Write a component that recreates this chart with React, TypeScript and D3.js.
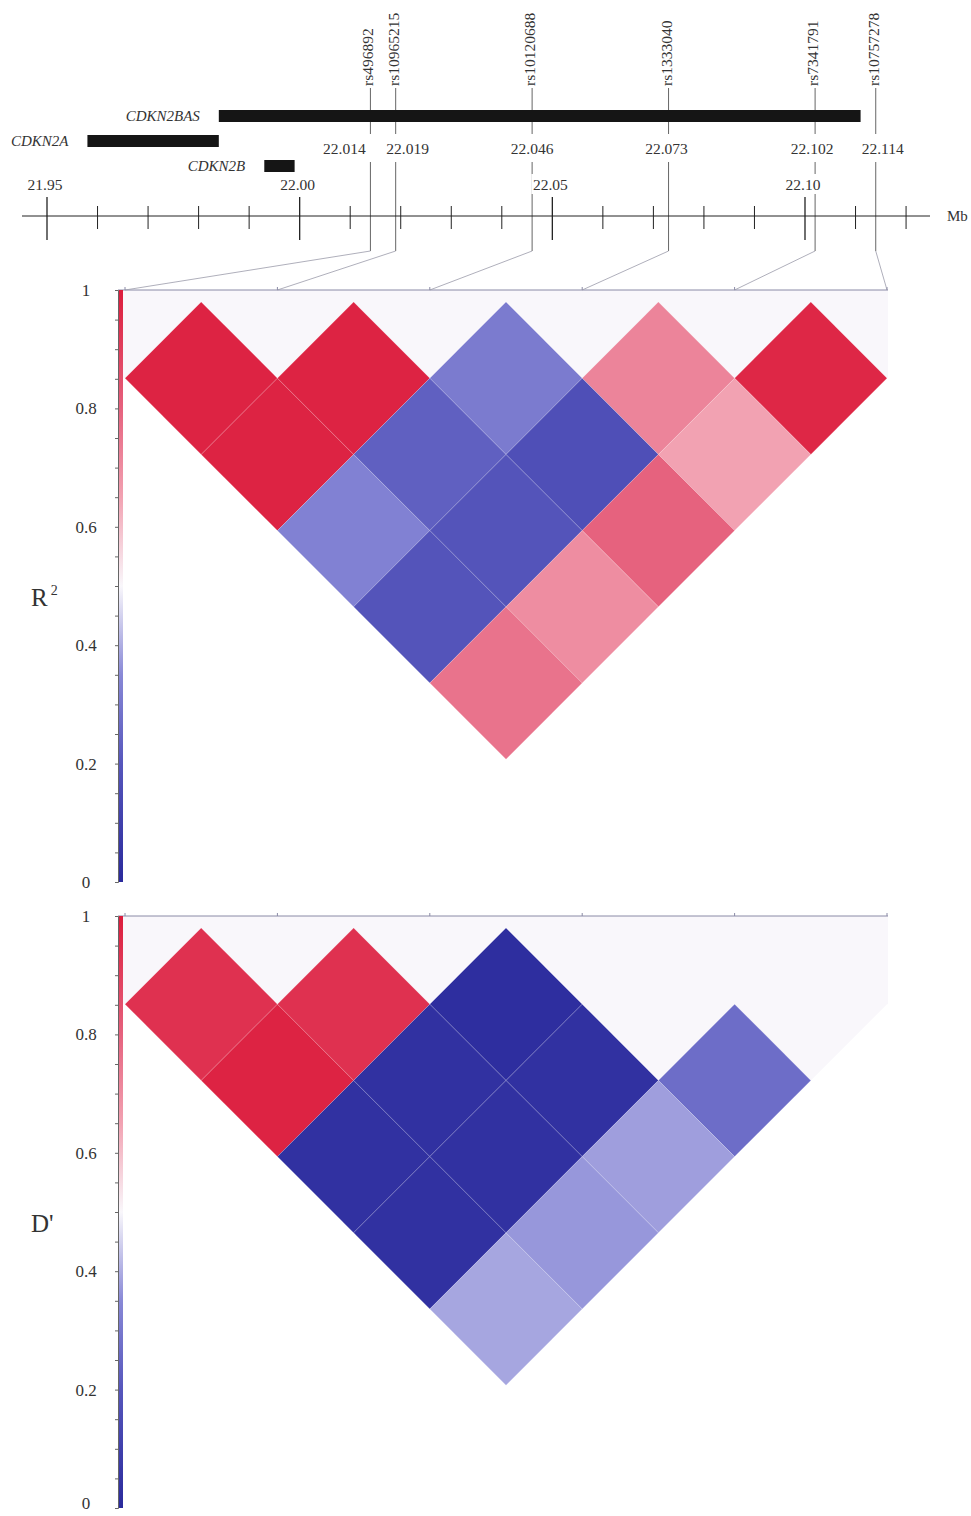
import * as d3 from "d3";
import React, { useEffect, useRef } from "react";

// SNPs and their positions (Mb)
const snps = ["rs496892", "rs10965215", "rs10120688", "rs1333040", "rs7341791", "rs10757278"];
const snpPos = [22.014, 22.019, 22.046, 22.073, 22.102, 22.114];

// genes
const genes = ["CDKN2BAS", "CDKN2A", "CDKN2B"];
const geneStart = [21.984, 21.958, 21.993];
const geneEnd = [22.111, 21.984, 21.999];

// axis ticks (Mb)
const majorTicks = [21.95, 22.0, 22.05, 22.1];
const minorTicks = [21.96, 21.97, 21.98, 21.99, 22.01, 22.02, 22.03, 22.04, 22.06, 22.07, 22.08, 22.09, 22.11, 22.12];

// LD values, grouped by distance between SNPs (row 1 = neighbours)
const r2Rows = [
  [0.98, 0.98, 0.31, 0.72, 0.97],
  [0.98, 0.23, 0.17, 0.65],
  [0.33, 0.19, 0.8],
  [0.19, 0.7],
  [0.76],
];
const dRows = [
  [0.94, 0.94, 0.02, 0.5, 0.5],
  [0.98, 0.03, 0.03, 0.27],
  [0.03, 0.03, 0.38],
  [0.03, 0.37],
  [0.39],
];

const legendTicks = [0, 0.2, 0.4, 0.6, 0.8, 1];

// colour ramp of the legend
const colorStops = [0, 0.2, 0.35, 0.5, 0.65, 0.8, 1];
const colorRange = ["#2a2a9c", "#5656bc", "#8888d6", "#f9f7fb", "#f2a2b2", "#e6627e", "#dc1c3c"];

const App = () => {
  const svgRef = useRef(null);

  useEffect(() => {
    const svg = d3.select(svgRef.current);
    svg.selectAll("*").remove();
    const font = "'Liberation Serif', 'Times New Roman', serif";
    const textColor = "#333";

    const color = d3.scaleLinear<string>().domain(colorStops).range(colorRange);

    // gradient for legend bar
    const defs = svg.append("defs");
    const grad = defs
      .append("linearGradient")
      .attr("id", "ldgrad")
      .attr("x1", 0)
      .attr("y1", 1)
      .attr("x2", 0)
      .attr("y2", 0);
    grad
      .selectAll("stop")
      .data(colorStops)
      .enter()
      .append("stop")
      .attr("offset", (d) => d)
      .attr("stop-color", (d, i) => colorRange[i]);

    // ---------- genomic axis ----------
    const x = d3.scaleLinear().domain([21.95, 22.1]).range([47, 805]);
    const axisY = 216;
    const top = svg.append("g");

    // SNP lines (broken at the position label row)
    snpPos.forEach((p) => {
      const sx = x(p);
      [[88, 134], [162, 251]].forEach(([a, b]) => {
        top.append("line")
          .attr("x1", sx).attr("x2", sx).attr("y1", a).attr("y2", b)
          .attr("stroke", "#666").attr("stroke-width", 1);
      });
    });

    // gene bars
    const geneRowY = [110, 135, 160];
    genes.forEach((g, i) => {
      top.append("rect")
        .attr("x", x(geneStart[i]))
        .attr("y", geneRowY[i])
        .attr("width", x(geneEnd[i]) - x(geneStart[i]))
        .attr("height", 12)
        .attr("fill", "#151515");
      top.append("text")
        .attr("x", x(geneStart[i]) - 19)
        .attr("y", geneRowY[i] + 11)
        .attr("text-anchor", "end")
        .attr("font-family", font)
        .attr("font-style", "italic")
        .attr("font-size", 15)
        .attr("fill", textColor)
        .text(g);
    });

    // axis line and ticks
    top.append("line")
      .attr("x1", 22).attr("x2", 930).attr("y1", axisY).attr("y2", axisY)
      .attr("stroke", "#222").attr("stroke-width", 1);
    majorTicks.forEach((t) => {
      top.append("line")
        .attr("x1", x(t)).attr("x2", x(t)).attr("y1", 197).attr("y2", 240)
        .attr("stroke", "#222").attr("stroke-width", 1.3);
    });
    minorTicks.forEach((t) => {
      top.append("line")
        .attr("x1", x(t)).attr("x2", x(t)).attr("y1", 206).attr("y2", 229)
        .attr("stroke", "#222").attr("stroke-width", 1);
    });
    const fmt2 = d3.format(".2f");
    majorTicks.forEach((t) => {
      top.append("rect")
        .attr("x", x(t) - 21).attr("y", 174).attr("width", 40).attr("height", 20)
        .attr("fill", "#fff");
      top.append("text")
        .attr("x", x(t) - 2)
        .attr("y", 190)
        .attr("text-anchor", "middle")
        .attr("font-family", font)
        .attr("font-size", 15.5)
        .attr("fill", textColor)
        .text(fmt2(t));
    });
    top.append("text")
      .attr("x", 947).attr("y", 221)
      .attr("font-family", font).attr("font-size", 15).attr("fill", textColor)
      .text("Mb");

    // SNP names and positions
    const fmt3 = d3.format(".3f");
    const posNudge = [-26, 12, 0, -2, -3, 7];
    snps.forEach((s, i) => {
      const sx = x(snpPos[i]);
      top.append("text")
        .attr("transform", `translate(${sx + 3},86) rotate(-90)`)
        .attr("text-anchor", "start")
        .attr("font-family", font)
        .attr("font-size", 15.5)
        .attr("fill", textColor)
        .text(s);
      top.append("text")
        .attr("x", sx + posNudge[i])
        .attr("y", 154)
        .attr("text-anchor", "middle")
        .attr("font-family", font)
        .attr("font-size", 15.5)
        .attr("fill", textColor)
        .text(fmt3(snpPos[i]));
    });

    // ---------- LD panels ----------
    const px = d3.scalePoint<string>().domain(snps).range([125, 887]);
    const half = px.step() / 2;

    const panels = [
      { rows: r2Rows, base: 290, bottom: 882, label: "R", sup: "2", connect: true },
      { rows: dRows, base: 916, bottom: 1508, label: "D'", sup: "", connect: false },
    ];

    panels.forEach((p) => {
      const g = svg.append("g");
      const y = d3.scaleLinear().domain([0, 1]).range([p.bottom, p.base]);
      const y0 = p.base + 12;

      // faint band above the first row
      g.append("rect")
        .attr("x", 122).attr("y", p.base)
        .attr("width", 888 - 122).attr("height", half + 12)
        .attr("fill", color(0.5));

      // cells
      const cells = [];
      p.rows.forEach((row, k) => {
        const dist = k + 1;
        row.forEach((v, i) => cells.push({ i, j: i + dist, v }));
      });
      g.selectAll(".cell")
        .data(cells)
        .enter()
        .append("path")
        .attr("class", "cell")
        .attr("d", (d) => {
          const cx = (px(snps[d.i]) + px(snps[d.j])) / 2;
          const cy = y0 + half * (d.j - d.i);
          return `M${cx},${cy - half}L${cx + half},${cy}L${cx},${cy + half}L${cx - half},${cy}Z`;
        })
        .attr("fill", (d) => color(d.v))
        .attr("stroke", (d) => (Math.abs(d.v - 0.5) < 0.01 ? "none" : "rgba(255,255,255,0.25)"))
        .attr("stroke-width", 0.6);

      // baseline with ticks at SNPs
      g.append("line")
        .attr("x1", 118).attr("x2", 888).attr("y1", p.base).attr("y2", p.base)
        .attr("stroke", "#8a8aa6").attr("stroke-width", 1);
      snps.forEach((s) => {
        g.append("line")
          .attr("x1", px(s)).attr("x2", px(s)).attr("y1", p.base - 3).attr("y2", p.base)
          .attr("stroke", "#8a8aa6").attr("stroke-width", 1);
      });

      if (p.connect) {
        snps.forEach((s, i) => {
          g.append("line")
            .attr("x1", x(snpPos[i])).attr("y1", 251)
            .attr("x2", px(s)).attr("y2", p.base)
            .attr("stroke", "#9a9aaa").attr("stroke-width", 0.8);
        });
      }

      // legend bar
      g.append("rect")
        .attr("x", 119).attr("y", p.base)
        .attr("width", 4).attr("height", p.bottom - p.base)
        .attr("fill", "url(#ldgrad)");
      const ax = g.append("g")
        .attr("transform", "translate(118,0)")
        .call(
          d3.axisLeft(y)
            .tickValues(d3.range(0, 21).map((k) => k / 20))
            .tickSize(3)
            .tickFormat(() => "")
        );
      ax.select(".domain").attr("stroke", "#666");
      ax.selectAll(".tick line").attr("stroke", "#666");

      legendTicks.forEach((t) => {
        g.append("text")
          .attr("x", 86)
          .attr("y", Math.min(y(t), 1503))
          .attr("dy", "0.35em")
          .attr("text-anchor", "middle")
          .attr("font-family", font)
          .attr("font-size", 17)
          .attr("fill", textColor)
          .text(String(t));
      });

      // panel title
      const ty = (p.base + p.bottom) / 2 + 20;
      const title = g.append("text")
        .attr("x", 31).attr("y", ty)
        .attr("font-family", font).attr("font-size", 25).attr("fill", textColor)
        .text(p.label);
      if (p.sup) {
        title.append("tspan")
          .attr("dx", 3).attr("dy", -11).attr("font-size", 14)
          .text(p.sup);
      }
    });
  }, []);

  return (
    <svg
      ref={svgRef}
      width={971}
      height={1516}
      style={{ position: "absolute", left: 0, top: 0, background: "#fff" }}
    ></svg>
  );
};

export default App;
